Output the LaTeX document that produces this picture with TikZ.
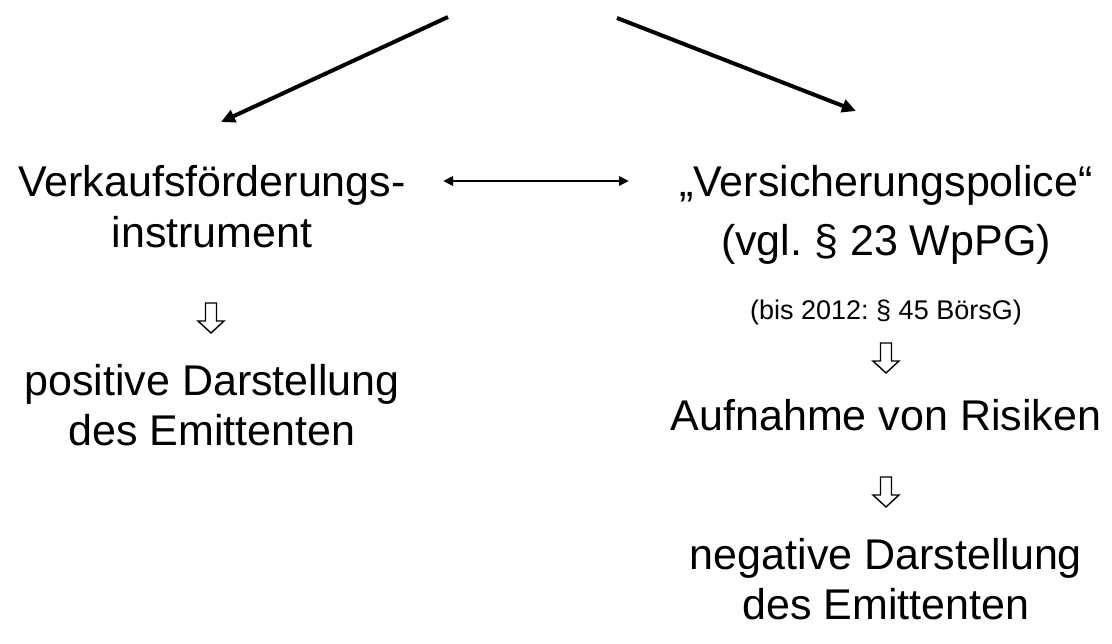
\documentclass[tikz,border=0pt]{standalone}
\usepackage{fontspec}
\setmainfont{Liberation Sans}
\usetikzlibrary{arrows.meta}
\frenchspacing

\tikzset{
  big/.style={font=\fontsize{43}{50}\selectfont, inner sep=0pt, anchor=base},
  small/.style={font=\fontsize{27}{31}\selectfont, inner sep=0pt, anchor=base},
  splitarrow/.style={line width=4pt, -{Triangle[length=14pt,width=13pt]}},
  dblarrow/.style={line width=2.8pt, {Triangle[length=10pt,width=9pt]}-{Triangle[length=10pt,width=9pt]}},
  % outlined arrow pointing down (y axis runs downward in this picture)
  hollowdown/.pic={
    \draw[line width=1.4pt, line join=miter, fill=white]
      (-5.5,-15) -- (5.5,-15) -- (5.5,3) -- (13,3) -- (0,15)
      -- (-13,3) -- (-5.5,3) -- cycle;
  }
}

\begin{document}
\begin{tikzpicture}[x=1pt, y=-1pt]
  \useasboundingbox (0,0) rectangle (1112,644);

  % left column
  \node[big] (verk) at (212,197) {Verkaufsförderungs-};
  \node[big] (instr) at (212,248) {instrument};
  \pic at (211,318) {hollowdown};
  \node[big] (pos) at (212,396) {positive Darstellung};
  \node[big] (posE) at (212,446) {des Emittenten};

  % right column
  \node[big] (vers) at (886,197) {„Versicherungspolice“};
  \node[big] (vgl) at (886,256) {(vgl. § 23 WpPG)};
  \node[small] (bis) at (886,320) {(bis 2012: § 45 BörsG)};
  \pic at (886,358) {hollowdown};
  \node[big] (auf) at (886,431) {Aufnahme von Risiken};
  \pic at (886,492) {hollowdown};
  \node[big] (neg) at (886,569) {negative Darstellung};
  \node[big] (negE) at (886,619) {des Emittenten};

  % connectors
  \coordinate (apexL) at (448,17);
  \coordinate (apexR) at (617,18);
  \coordinate (tipL) at (221,122);
  \coordinate (tipR) at (856,111);
  \draw[splitarrow] (apexL) -- (tipL);
  \draw[splitarrow] (apexR) -- (tipR);

  \coordinate (dl) at (443,181);
  \coordinate (dr) at (629,181);
  \draw[dblarrow] (dl) -- (dr);
\end{tikzpicture}
\end{document}
